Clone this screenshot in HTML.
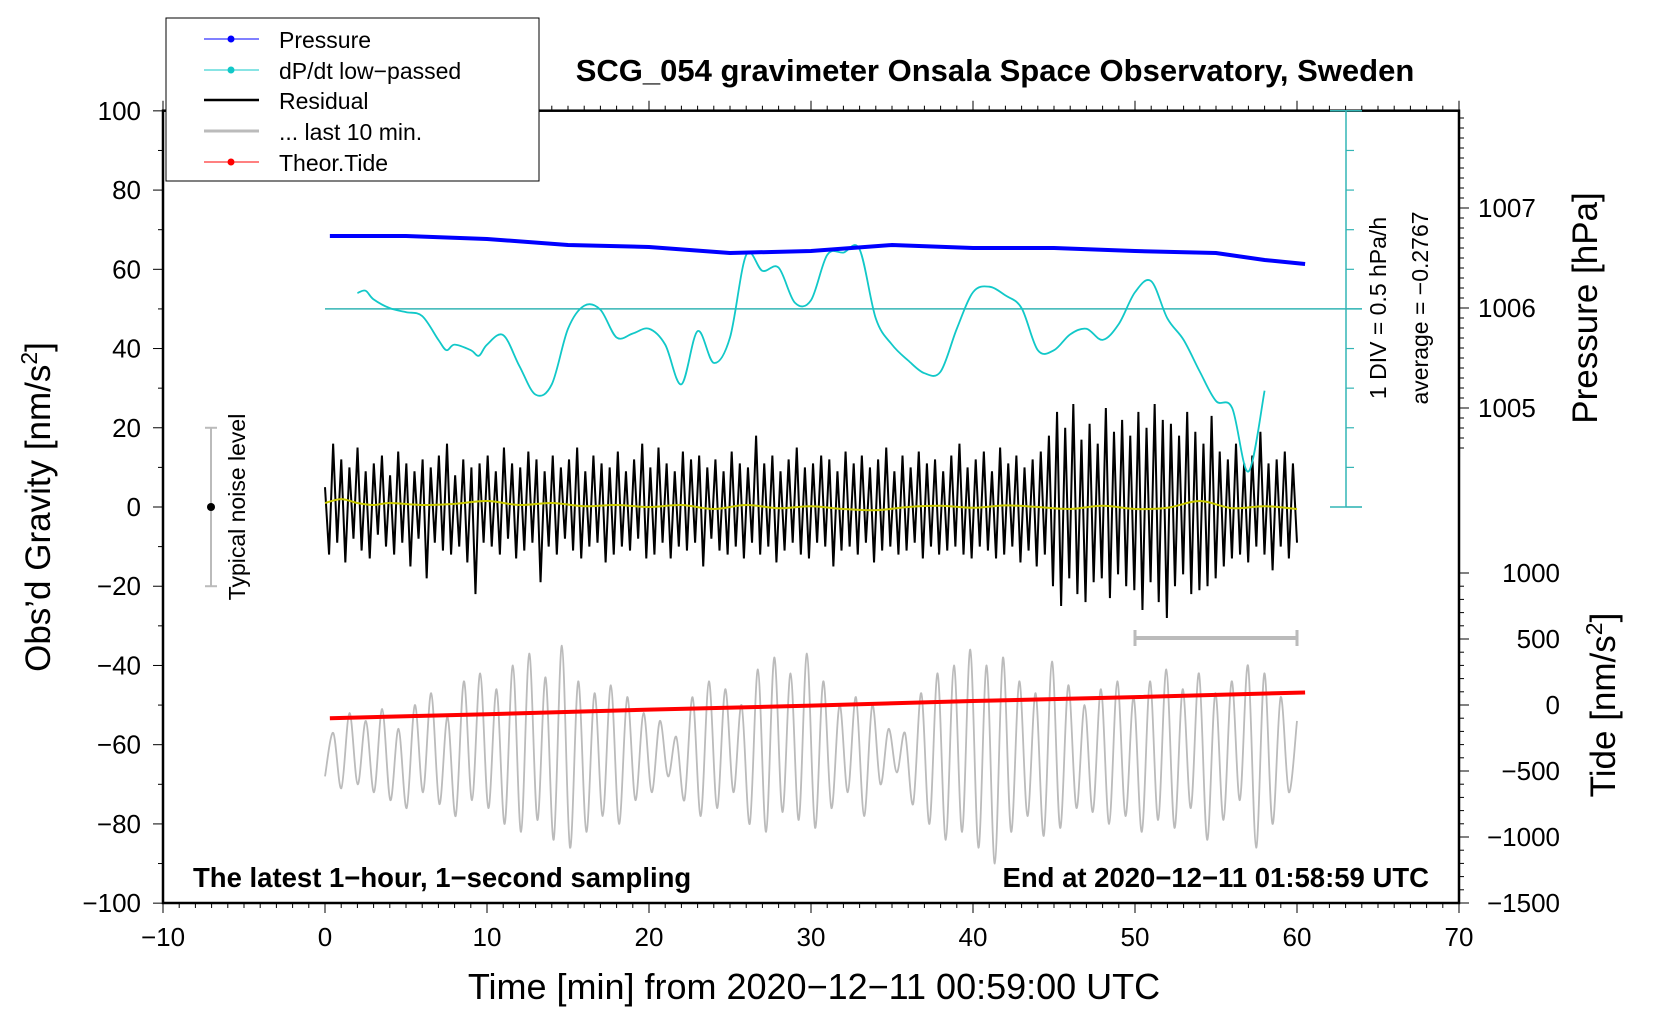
<!DOCTYPE html>
<html><head><meta charset="utf-8"><style>
html,body{margin:0;padding:0;background:#fff;}
svg{display:block;font-family:"Liberation Sans",sans-serif;}
</style></head><body>
<svg id="chart" width="1660" height="1020" viewBox="0 0 1660 1020" xmlns="http://www.w3.org/2000/svg">
<g id="layer"></g>
</svg>
<script>
// ---------- data ----------
const pressureTimes = [0.3,5,10,15,20,25,30,35,40,45,50,55,58,60.5];
const pressureValues = [1006.72,1006.72,1006.69,1006.63,1006.61,1006.55,1006.57,1006.63,1006.60,1006.60,1006.57,1006.55,1006.48,1006.44];
const dpdtTimes = [2,2.5,3,4,5,6,7,7.5,8,9,9.5,10,11,12,13,14,15,16,17,18,19,20,21,22,23,24,25,26,27,28,29,30,31,32,33,34,35,36,37,38,39,40,41,42,43,44,45,46,47,48,49,50,51,52,53,54,55,56,57,58];
const dpdtDeviation = [0.20,0.23,0.12,0.01,-0.04,-0.09,-0.39,-0.52,-0.45,-0.52,-0.59,
 -0.45,-0.33,-0.72,-1.08,-0.95,-0.25,0.04,-0.01,-0.36,-0.31,
 -0.25,-0.45,-0.95,-0.28,-0.68,-0.36,0.68,0.48,0.52,0.08,
 0.11,0.68,0.71,0.75,-0.12,-0.45,-0.65,-0.81,-0.79,-0.25,
 0.21,0.28,0.17,0.01,-0.52,-0.52,-0.32,-0.25,-0.39,-0.19,
 0.21,0.35,-0.12,-0.39,-0.79,-1.16,-1.25,-2.05,-1.03];
const dpdtAverage = -0.2767;
const residual = [5,-12,16,-9,12,-14,10,-8,15,-11,9,-13,11,-7,13,-10,8,-12,14,-9,
 11,-15,9,-8,12,-18,10,-9,13,-11,16,-12,8,-10,12,-14,10,-22,11,-9,
 13,-10,9,-12,15,-8,11,-13,10,-11,14,-9,12,-19,9,-10,13,-12,10,-8,
 12,-11,15,-13,9,-10,13,-9,11,-14,10,-12,14,-10,9,-11,12,-8,16,-13,
 10,-12,15,-9,11,-13,9,-10,14,-11,12,-9,13,-15,10,-8,12,-11,9,-12,
 14,-10,11,-13,10,-9,18,-12,11,-10,13,-14,9,-11,12,-9,15,-12,10,-13,
 11,-9,13,-10,12,-15,9,-11,14,-10,11,-12,13,-9,10,-14,12,-11,15,-10,
 9,-12,13,-11,10,-9,14,-13,11,-10,12,-12,9,-11,13,-10,16,-12,10,-13,
 12,-10,14,-11,9,-13,15,-12,11,-10,13,-14,10,-11,12,-15,14,-12,18,-20,
 24,-25,20,-18,26,-22,17,-24,21,-19,16,-18,25,-23,19,-17,22,-20,18,-21,
 24,-26,20,-19,26,-24,22,-28,21,-20,18,-17,24,-22,19,-21,16,-20,23,-18,
 14,-15,12,-13,16,-12,11,-14,13,-10,19,-12,11,-16,12,-10,14,-13,11,-9];
const smoothTimes = [0,1,2,3,4,6,8,10,12,14,16,18,20,22,24,26,28,30,32,34,36,38,40,42,44,46,48,50,52,54,56,58,60];
const smoothValues = [1,2,1,0.5,1,0.5,0.8,1.5,0.5,1,0.2,0.5,0,0.5,-0.5,0.5,-0.3,0.2,-0.5,-0.8,0,0.3,-0.2,0.4,0,-0.5,0.3,-0.5,-0.2,1.5,-0.3,0.2,-0.5];
const last10 = [-6,5,-9,10,-8,8,-10,11,-12,6,-14,12,-10,15,-13,9,-16,18,-12,20,
 -14,16,-18,22,-20,25,-17,19,-22,27,-24,18,-20,15,-16,17,-18,14,-12,10,
 -10,8,-6,4,-12,14,-16,18,-14,16,-10,12,-18,21,-20,24,-15,20,-17,25,
 -19,18,-14,12,-10,14,-16,12,-8,6,-5,5,-13,15,-18,20,-22,22,-20,26,
 -24,22,-28,24,-20,18,-16,15,-21,23,-19,17,-14,12,-15,16,-18,18,-16,14,
 -20,18,-17,21,-19,16,-14,20,-22,15,-17,18,-12,22,-24,20,-18,14,-10,8];
const tideTimes = [0.3,10,20,30,40,50,60.5];
const tideValues = [-100,-70,-35,-5,30,60,95];
const xTicks = [-10,0,10,20,30,40,50,60,70];
const yTicks = [100,80,60,40,20,0,-20,-40,-60,-80,-100];
const pressureTicks = [1007,1006,1005];
const tideTicks = [1000,500,0,-500,-1000,-1500];

// ---------- axes ----------
const X0=163, X1=1459, YT=110.7, YB=903;
const xs = t => X0 + (t+10)*(X1-X0)/80;
const ys = g => 507 - g*(YB-YT)/200;
const yp = p => 308 - (p-1006)*100;
const yt = n => 705 - n*0.132;
const yd = d => ys(50) - d*75*1.058;

const NS="http://www.w3.org/2000/svg";
const layer=document.getElementById('layer');
function mk(tag,attrs,parent){const e=document.createElementNS(NS,tag);for(const k in attrs)e.setAttribute(k,attrs[k]);(parent||layer).appendChild(e);return e;}
function txt(s,attrs){const e=mk('text',attrs);e.textContent=s;return e;}
function smoothPath(pts){let d='M'+pts[0][0]+','+pts[0][1];for(let i=0;i<pts.length-1;i++){const p0=pts[Math.max(0,i-1)],p1=pts[i],p2=pts[i+1],p3=pts[Math.min(pts.length-1,i+2)];const c1x=p1[0]+(p2[0]-p0[0])/6,c1y=p1[1]+(p2[1]-p0[1])/6,c2x=p2[0]-(p3[0]-p1[0])/6,c2y=p2[1]-(p3[1]-p1[1])/6;d+=` C${c1x},${c1y} ${c2x},${c2y} ${p2[0]},${p2[1]}`;}return d;}

let e=mk('rect',{x:X0,y:YT,width:X1-X0,height:YB-YT,fill:'none',stroke:'#000','stroke-width':2.5});



for(let t=-10;t<=70;t++){const maj=t%10===0;
 mk('line',{x1:xs(t),x2:xs(t),y1:YB,y2:YB+(maj?10:5),stroke:'#000','stroke-width':1});
 mk('line',{x1:xs(t),x2:xs(t),y1:YT,y2:YT-(maj?10:5),stroke:'#000','stroke-width':1});}
xTicks.forEach(t=>{e=txt(String(t).replace('-','\u2212'),{x:xs(t),y:946,'font-size':26,'text-anchor':'middle'});
 
 });
for(let g=-100;g<=100;g+=10){mk('line',{x1:X0,x2:X0-(g%20===0?10:5),y1:ys(g),y2:ys(g),stroke:'#000','stroke-width':1});}
yTicks.forEach(g=>{e=txt(String(g).replace('-','\u2212'),{x:141,y:ys(g)+9,'font-size':26,'text-anchor':'end'});
 
 });
for(let p=1004.6;p<=1007.95;p+=0.1){const maj=Math.abs(p-Math.round(p))<0.01;
 mk('line',{x1:X1,x2:X1+(maj?10:5),y1:yp(p),y2:yp(p),stroke:'#000','stroke-width':1});}
pressureTicks.forEach(p=>{e=txt(String(p),{x:1478,y:yp(p)+9,'font-size':26});
 
 });
for(let n=-1500;n<=1000;n+=100){const maj=n%500===0;
 mk('line',{x1:X1,x2:X1+(maj?10:5),y1:yt(n),y2:yt(n),stroke:'#000','stroke-width':1});}
tideTicks.forEach(n=>{e=txt(String(n).replace('-','\u2212'),{x:1560,y:yt(n)+9,'font-size':26,'text-anchor':'end'});
 
 });

const cy='#33b5b5';
mk('line',{x1:1346,x2:1346,y1:YT,y2:ys(0),stroke:cy,'stroke-width':1.5});
for(let g=0;g<=100;g+=10){mk('line',{x1:1346,x2:1346+(g%50===0?16:8),y1:ys(g),y2:ys(g),stroke:cy,'stroke-width':1.2});}
mk('line',{x1:1330,x2:1362,y1:YT,y2:YT,stroke:cy,'stroke-width':1.5});
mk('line',{x1:1330,x2:1362,y1:ys(0),y2:ys(0),stroke:cy,'stroke-width':1.5});
e=mk('line',{x1:xs(0),x2:1362,y1:ys(50),y2:ys(50),stroke:cy,'stroke-width':1.5});



let pts=last10.map((v,i)=>[xs(i*60/(last10.length-1)),ys(-62+v)]);
e=mk('path',{d:smoothPath(pts),fill:'none',stroke:'#bbb','stroke-width':1.8});



e=mk('polyline',{points:tideTimes.map((t,i)=>xs(t)+','+yt(tideValues[i])).join(' '),fill:'none',stroke:'#f00','stroke-width':4});



e=mk('polyline',{points:residual.map((v,i)=>xs(i*60/(residual.length-1))+','+ys(v)).join(' '),fill:'none',stroke:'#000','stroke-width':2});


pts=smoothTimes.map((t,i)=>[xs(t),ys(smoothValues[i])]);
e=mk('path',{d:smoothPath(pts),fill:'none',stroke:'#c8c800','stroke-width':2});



pts=dpdtTimes.map((t,i)=>[xs(t),yd(dpdtDeviation[i])]);
e=mk('path',{d:smoothPath(pts),fill:'none',stroke:'#11c8c8','stroke-width':1.8});



e=mk('polyline',{points:pressureTimes.map((t,i)=>xs(t)+','+yp(pressureValues[i])).join(' '),fill:'none',stroke:'#0000ff','stroke-width':4});



mk('line',{x1:211,x2:211,y1:ys(20),y2:ys(-20),stroke:'#bbb','stroke-width':2});
mk('line',{x1:205,x2:217,y1:ys(20),y2:ys(20),stroke:'#bbb','stroke-width':2});
mk('line',{x1:205,x2:217,y1:ys(-20),y2:ys(-20),stroke:'#bbb','stroke-width':2});
mk('circle',{cx:211,cy:ys(0),r:4,fill:'#000'});
txt('Typical noise level',{x:0,y:0,'font-size':23,'text-anchor':'middle',transform:`translate(245,${ys(0)}) rotate(-90)`});

mk('line',{x1:xs(50),x2:xs(60),y1:638,y2:638,stroke:'#bbb','stroke-width':4});
mk('line',{x1:xs(50),x2:xs(50),y1:630,y2:646,stroke:'#bbb','stroke-width':3});
mk('line',{x1:xs(60),x2:xs(60),y1:630,y2:646,stroke:'#bbb','stroke-width':3});
</script>
<svg style="position:absolute;left:0;top:0" width="1660" height="1020" xmlns="http://www.w3.org/2000/svg" font-family="Liberation Sans, sans-serif">
<text x="995" y="81" font-size="31" font-weight="bold" text-anchor="middle">SCG_054 gravimeter Onsala Space Observatory, Sweden</text>
<text x="814" y="999" font-size="36" text-anchor="middle">Time [min] from 2020−12−11 00:59:00 UTC</text>
<text font-size="35" text-anchor="middle" transform="translate(50,507) rotate(-90)">Obs’d Gravity [nm/s<tspan font-size="23" dy="-13">2</tspan><tspan dy="13">]</tspan></text>
<text font-size="35" text-anchor="middle" transform="translate(1597,308) rotate(-90)">Pressure [hPa]</text>
<text font-size="35" text-anchor="middle" transform="translate(1615,705) rotate(-90)">Tide [nm/s<tspan font-size="23" dy="-13">2</tspan><tspan dy="13">]</tspan></text>
<text font-size="23" text-anchor="middle" transform="translate(1386,308) rotate(-90)">1 DIV = 0.5 hPa/h</text>
<text font-size="23" text-anchor="middle" transform="translate(1428,308) rotate(-90)">average = −0.2767</text>
<text x="193" y="887" font-size="27.5" font-weight="bold">The latest 1−hour, 1−second sampling</text>
<text x="1429" y="887" font-size="27.5" font-weight="bold" text-anchor="end">End at 2020−12−11 01:58:59 UTC</text>
<g>
<rect x="166" y="18" width="373" height="163" fill="#fff" stroke="#000" stroke-width="1"/>
<line x1="204" x2="259" y1="39" y2="39" stroke="#0000ff"/><circle cx="231" cy="39" r="3.5" fill="#0000ff"/>
<text x="279" y="48" font-size="23">Pressure</text>
<line x1="204" x2="259" y1="70" y2="70" stroke="#11c8c8"/><circle cx="231" cy="70" r="3.5" fill="#11c8c8"/>
<text x="279" y="79" font-size="23">dP/dt low−passed</text>
<line x1="204" x2="259" y1="100" y2="100" stroke="#000" stroke-width="2.5"/>
<text x="279" y="109" font-size="23">Residual</text>
<line x1="204" x2="259" y1="131" y2="131" stroke="#bbb" stroke-width="3"/>
<text x="279" y="140" font-size="23">... last 10 min.</text>
<line x1="204" x2="259" y1="162" y2="162" stroke="#f00"/><circle cx="231" cy="162" r="3.5" fill="#f00"/>
<text x="279" y="171" font-size="23">Theor.Tide</text>
</g>
</svg>
</body></html>
